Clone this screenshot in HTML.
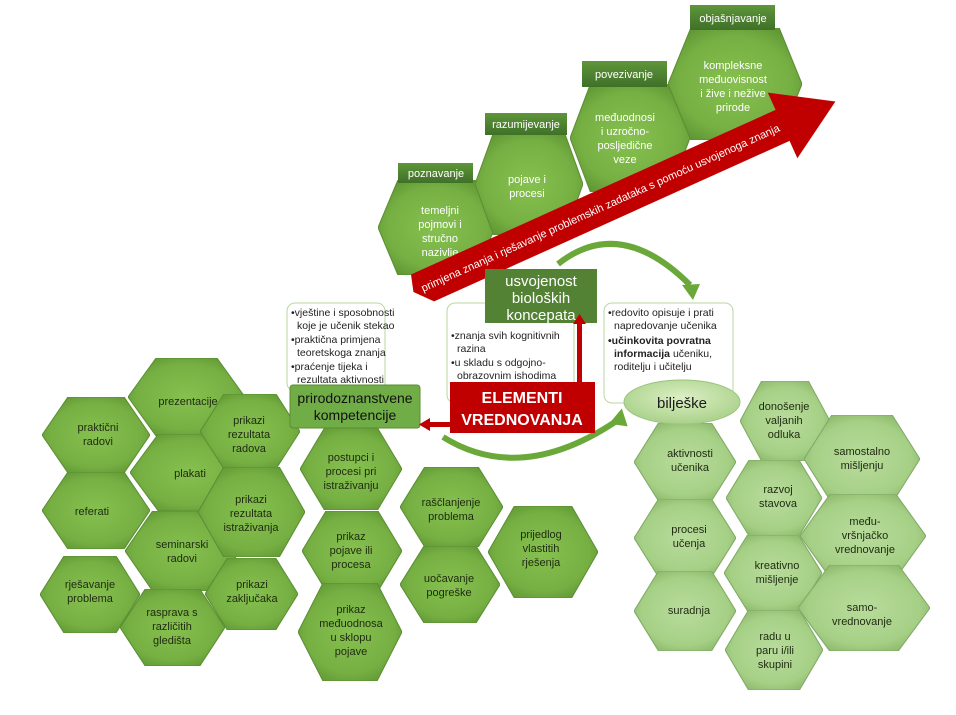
<!DOCTYPE html>
<html><head><meta charset="utf-8"><style>
html,body{margin:0;padding:0;background:#fff;}
svg{display:block;}
text{font-family:"Liberation Sans",sans-serif;}
.t{font-size:11px;fill:#1e2a10;text-anchor:middle;}
.w{font-size:11px;fill:#fff;text-anchor:middle;}
.b{font-size:10.5px;fill:#222;}
</style></head><body>
<svg width="956" height="715" viewBox="0 0 956 715" xmlns="http://www.w3.org/2000/svg">
<defs>
<radialGradient id="g1" cx="50%" cy="50%" r="60%">
<stop offset="0" stop-color="#86c04f"/><stop offset="0.7" stop-color="#76b043"/><stop offset="1" stop-color="#5e9432"/></radialGradient>
<radialGradient id="g2" cx="50%" cy="50%" r="60%">
<stop offset="0" stop-color="#b8dc9c"/><stop offset="0.7" stop-color="#a6d086"/><stop offset="1" stop-color="#86b466"/></radialGradient>
<radialGradient id="g3" cx="50%" cy="40%" r="60%">
<stop offset="0" stop-color="#dcefc4"/><stop offset="1" stop-color="#a9d18a"/></radialGradient>
<linearGradient id="hd" x1="0" y1="0" x2="0" y2="1"><stop offset="0" stop-color="#5f963a"/><stop offset="1" stop-color="#3f7028"/></linearGradient>
<symbol id="hx" viewBox="0 0 100 100" preserveAspectRatio="none"><polygon points="0,50 24,0 76,0 100,50 76,100 24,100" fill="url(#g1)" stroke="#5a8d33" stroke-width="1" vector-effect="non-scaling-stroke"/></symbol>
<symbol id="hl" viewBox="0 0 100 100" preserveAspectRatio="none"><polygon points="0,50 24,0 76,0 100,50 76,100 24,100" fill="url(#g2)" stroke="#7fa865" stroke-width="1" vector-effect="non-scaling-stroke"/></symbol>
<symbol id="st" viewBox="0 0 100 100" preserveAspectRatio="none"><polygon points="0,50 17,0 83,0 100,50 83,100 17,100" fill="url(#g1)" stroke="#5a8d33" stroke-width="1" vector-effect="non-scaling-stroke"/></symbol>
</defs>

<!-- top steps -->
<use href="#st" x="378" y="180" width="117" height="95"/>
<rect x="398" y="163" width="75" height="20" fill="url(#hd)"/>
<text class="w" x="436" y="177">poznavanje</text>
<text class="w" x="440" y="214"><tspan x="440">temeljni</tspan><tspan x="440" dy="14">pojmovi i</tspan><tspan x="440" dy="14">stručno</tspan><tspan x="440" dy="14">nazivlje</tspan></text>

<use href="#st" x="475" y="133" width="108" height="102"/>
<rect x="485" y="113" width="82" height="22" fill="url(#hd)"/>
<text class="w" x="526" y="128">razumijevanje</text>
<text class="w" x="527" y="183"><tspan x="527">pojave i</tspan><tspan x="527" dy="14">procesi</tspan></text>

<use href="#st" x="570" y="84" width="120" height="108"/>
<rect x="582" y="61" width="85" height="26" fill="url(#hd)"/>
<text class="w" x="624" y="78">povezivanje</text>
<text class="w" x="625" y="121"><tspan x="625">međuodnosi</tspan><tspan x="625" dy="14">i uzročno-</tspan><tspan x="625" dy="14">posljedične</tspan><tspan x="625" dy="14">veze</tspan></text>

<use href="#st" x="668" y="28" width="134" height="112"/>
<rect x="690" y="5" width="85" height="25" fill="url(#hd)"/>
<text class="w" x="733" y="22">objašnjavanje</text>
<text class="w" x="733" y="69"><tspan x="733">kompleksne</tspan><tspan x="733" dy="14">međuovisnost</tspan><tspan x="733" dy="14">i žive i nežive</tspan><tspan x="733" dy="14">prirode</tspan></text>

<!-- red arrow -->
<g transform="translate(418,290) rotate(-24.3)">
<polygon points="0,-17 400,-17 400,-36 458,0 400,36 400,17 10,17 -5,0" fill="#c00000"/>
<text x="200" y="4" font-size="11" fill="#fff" text-anchor="middle">primjena  znanja  i  rješavanje  problemskih  zadataka  s  pomoću  usvojenoga  znanja</text>
</g>

<!-- green arcs -->
<path d="M558,264 Q620,215 690,285" fill="none" stroke="#6aa83a" stroke-width="6"/>
<polygon points="682,285 700,284 693,300" fill="#6aa83a"/>
<path d="M443,437 Q520,485 615,422" fill="none" stroke="#6aa83a" stroke-width="6"/>
<polygon points="610,414 630,414 620,430" fill="#6aa83a" transform="rotate(-50 620 420)"/>

<!-- text boxes -->
<rect x="287" y="303" width="98" height="88" rx="8" fill="#fff" stroke="#b9d7a0"/>
<text class="b"><tspan x="291" y="316">•vještine i sposobnosti</tspan><tspan x="297" dy="13">koje je učenik stekao</tspan><tspan x="291" dy="14">•praktična primjena</tspan><tspan x="297" dy="13">teoretskoga znanja</tspan><tspan x="291" dy="14">•praćenje tijeka i</tspan><tspan x="297" dy="13">rezultata aktivnosti</tspan></text>
<rect x="447" y="303" width="127" height="100" rx="8" fill="#fff" stroke="#b9d7a0"/>
<text class="b"><tspan x="451" y="339">•znanja svih kognitivnih</tspan><tspan x="457" dy="13">razina</tspan><tspan x="451" dy="14">•u skladu s odgojno-</tspan><tspan x="457" dy="13">obrazovnim ishodima</tspan></text>
<rect x="604" y="303" width="129" height="100" rx="8" fill="#fff" stroke="#b9d7a0"/>
<text class="b"><tspan x="608" y="316">•redovito opisuje i prati</tspan><tspan x="614" dy="13">napredovanje učenika</tspan><tspan x="608" dy="15" font-weight="bold">•učinkovita povratna</tspan><tspan x="614" dy="13" font-weight="bold">informacija</tspan><tspan> učeniku,</tspan><tspan x="614" dy="13">roditelju i učitelju</tspan></text>

<rect x="485" y="269" width="112" height="54" fill="#548235"/>
<text x="541" y="286" font-size="15" fill="#fff" text-anchor="middle"><tspan x="541">usvojenost</tspan><tspan x="541" dy="17">bioloških</tspan><tspan x="541" dy="17">koncepata</tspan></text>

<!-- left cluster -->
<use href="#hx" x="42" y="397" width="108" height="76"/>
<use href="#hx" x="128" y="358" width="117" height="78"/>
<use href="#hx" x="42" y="472" width="108" height="77"/>
<use href="#hx" x="130" y="434" width="118" height="77"/>
<use href="#hx" x="40" y="556" width="100" height="77"/>
<use href="#hx" x="125" y="511" width="115" height="80"/>
<use href="#hx" x="120" y="589" width="105" height="77"/>
<use href="#hx" x="200" y="394" width="100" height="75"/>
<use href="#hx" x="198" y="467" width="107" height="90"/>
<use href="#hx" x="205" y="558" width="93" height="72"/>
<use href="#hx" x="300" y="428" width="102" height="82"/>
<use href="#hx" x="302" y="511" width="100" height="80"/>
<use href="#hx" x="298" y="583" width="104" height="98"/>
<use href="#hx" x="400" y="467" width="103" height="80"/>
<use href="#hx" x="400" y="546" width="100" height="77"/>
<use href="#hx" x="488" y="506" width="110" height="92"/>

<g class="t">
<text class="t" x="98" y="431"><tspan x="98">praktični</tspan><tspan x="98" dy="14">radovi</tspan></text>
<text class="t" x="188" y="405">prezentacije</text>
<text class="t" x="92" y="515">referati</text>
<text class="t" x="190" y="477">plakati</text>
<text class="t" x="90" y="588"><tspan x="90">rješavanje</tspan><tspan x="90" dy="14">problema</tspan></text>
<text class="t" x="182" y="548"><tspan x="182">seminarski</tspan><tspan x="182" dy="14">radovi</tspan></text>
<text class="t" x="172" y="616"><tspan x="172">rasprava s</tspan><tspan x="172" dy="14">različitih</tspan><tspan x="172" dy="14">gledišta</tspan></text>
<text class="t" x="249" y="424"><tspan x="249">prikazi</tspan><tspan x="249" dy="14">rezultata</tspan><tspan x="249" dy="14">radova</tspan></text>
<text class="t" x="251" y="503"><tspan x="251">prikazi</tspan><tspan x="251" dy="14">rezultata</tspan><tspan x="251" dy="14">istraživanja</tspan></text>
<text class="t" x="252" y="588"><tspan x="252">prikazi</tspan><tspan x="252" dy="14">zaključaka</tspan></text>
<text class="t" x="351" y="461"><tspan x="351">postupci i</tspan><tspan x="351" dy="14">procesi pri</tspan><tspan x="351" dy="14">istraživanju</tspan></text>
<text class="t" x="351" y="540"><tspan x="351">prikaz</tspan><tspan x="351" dy="14">pojave ili</tspan><tspan x="351" dy="14">procesa</tspan></text>
<text class="t" x="351" y="613"><tspan x="351">prikaz</tspan><tspan x="351" dy="14">međuodnosa</tspan><tspan x="351" dy="14">u sklopu</tspan><tspan x="351" dy="14">pojave</tspan></text>
<text class="t" x="451" y="506"><tspan x="451">raščlanjenje</tspan><tspan x="451" dy="14">problema</tspan></text>
<text class="t" x="449" y="582"><tspan x="449">uočavanje</tspan><tspan x="449" dy="14">pogreške</tspan></text>
<text class="t" x="541" y="538"><tspan x="541">prijedlog</tspan><tspan x="541" dy="14">vlastitih</tspan><tspan x="541" dy="14">rješenja</tspan></text>
</g>

<!-- right cluster -->
<use href="#hl" x="740" y="381" width="90" height="80"/>
<use href="#hl" x="634" y="423" width="102" height="78"/>
<use href="#hl" x="804" y="415" width="116" height="88"/>
<use href="#hl" x="726" y="460" width="96" height="76"/>
<use href="#hl" x="634" y="499" width="102" height="78"/>
<use href="#hl" x="800" y="494" width="126" height="84"/>
<use href="#hl" x="724" y="535" width="98" height="76"/>
<use href="#hl" x="634" y="571" width="102" height="80"/>
<use href="#hl" x="798" y="565" width="132" height="86"/>
<use href="#hl" x="725" y="610" width="98" height="80"/>
<text class="t" x="784" y="410"><tspan x="784">donošenje</tspan><tspan x="784" dy="14">valjanih</tspan><tspan x="784" dy="14">odluka</tspan></text>
<text class="t" x="690" y="457"><tspan x="690">aktivnosti</tspan><tspan x="690" dy="14">učenika</tspan></text>
<text class="t" x="862" y="455"><tspan x="862">samostalno</tspan><tspan x="862" dy="14">mišljenju</tspan></text>
<text class="t" x="778" y="493"><tspan x="778">razvoj</tspan><tspan x="778" dy="14">stavova</tspan></text>
<text class="t" x="689" y="533"><tspan x="689">procesi</tspan><tspan x="689" dy="14">učenja</tspan></text>
<text class="t" x="865" y="525"><tspan x="865">među-</tspan><tspan x="865" dy="14">vršnjačko</tspan><tspan x="865" dy="14">vrednovanje</tspan></text>
<text class="t" x="777" y="569"><tspan x="777">kreativno</tspan><tspan x="777" dy="14">mišljenje</tspan></text>
<text class="t" x="689" y="614">suradnja</text>
<text class="t" x="862" y="611"><tspan x="862">samo-</tspan><tspan x="862" dy="14">vrednovanje</tspan></text>
<text class="t" x="775" y="640"><tspan x="775">radu u</tspan><tspan x="775" dy="14">paru i/ili</tspan><tspan x="775" dy="14">skupini</tspan></text>

<!-- bilješke -->
<ellipse cx="682" cy="402" rx="58" ry="22" fill="url(#g3)" stroke="#9cc47f"/>
<text x="682" y="408" font-size="15" fill="#1a1a1a" text-anchor="middle">bilješke</text>

<!-- prirodoznanstvene -->
<rect x="290" y="385" width="130" height="43" rx="3" fill="#70ad47" stroke="#5a8d33"/>
<text x="355" y="403" font-size="14" fill="#111" text-anchor="middle"><tspan x="355">prirodoznanstvene</tspan><tspan x="355" dy="17">kompetencije</tspan></text>

<!-- red arrows -->
<rect x="577" y="322" width="5" height="62" fill="#c00000"/>
<polygon points="573,324 586,324 579.5,314" fill="#c00000"/>
<rect x="428" y="422" width="24" height="5" fill="#c00000"/>
<polygon points="430,418 430,431 419,424.5" fill="#c00000"/>

<rect x="450" y="382" width="145" height="51" fill="#c00000"/>
<text x="522" y="403" font-size="16" font-weight="bold" fill="#fff" text-anchor="middle">ELEMENTI</text>
<text x="522" y="425" font-size="16" font-weight="bold" fill="#fff" text-anchor="middle">VREDNOVANJA</text>
</svg>
</body></html>
